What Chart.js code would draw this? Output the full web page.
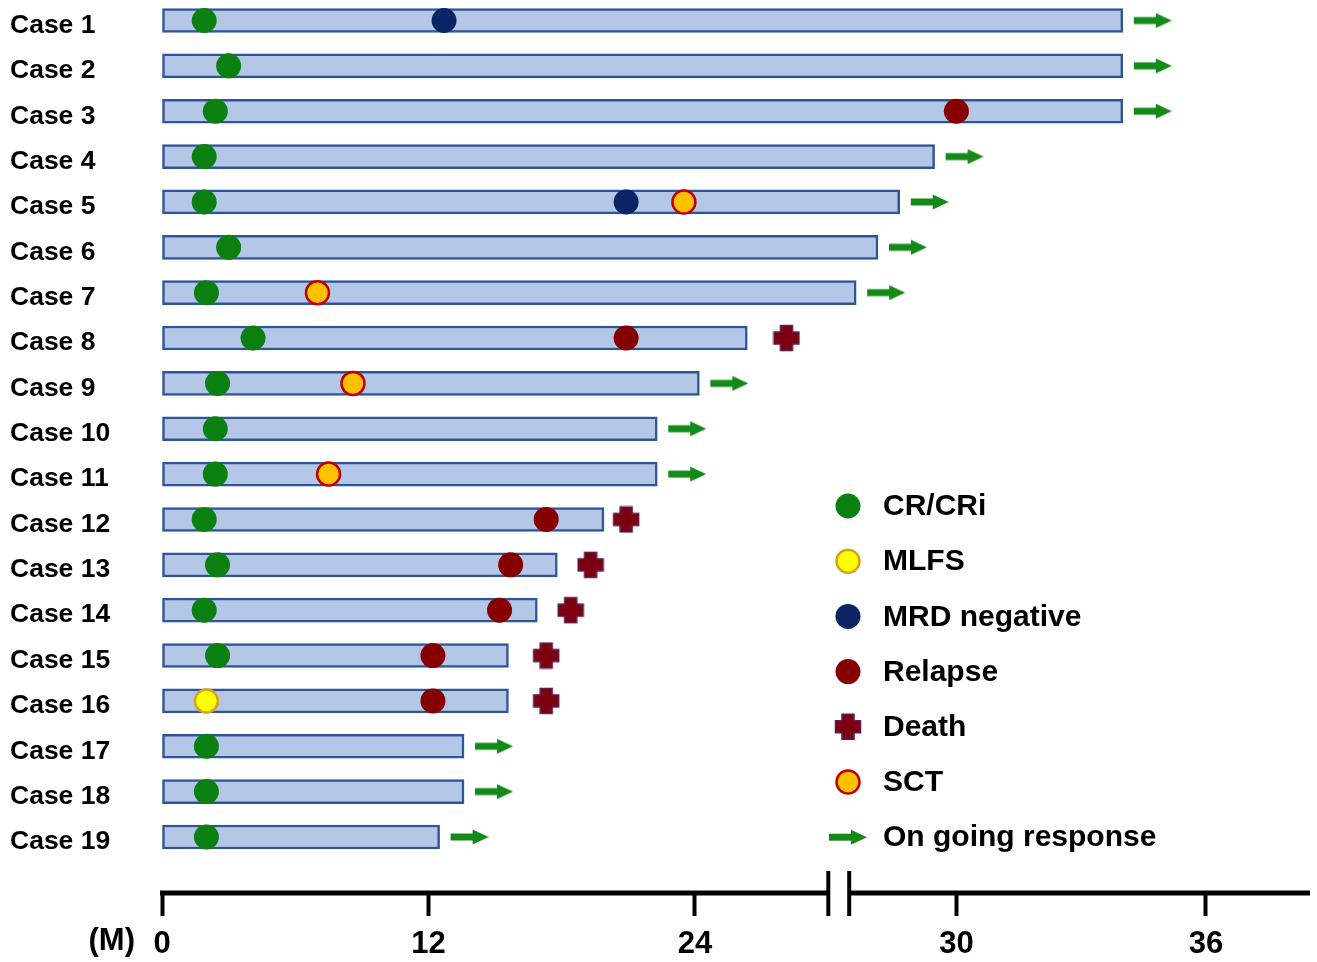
<!DOCTYPE html>
<html>
<head>
<meta charset="utf-8">
<script src="https://cdn.jsdelivr.net/npm/chart.js@4/dist/chart.umd.min.js"></script>
<style>
  html, body { margin: 0; padding: 0; background: #ffffff; }
  #wrap { width: 1317px; height: 962px; }
</style>
</head>
<body>
<div id="wrap"><canvas id="c" width="1317" height="962"></canvas></div>
<script>
// ---------------- DATA ----------------
const CASES = ['Case 1','Case 2','Case 3','Case 4','Case 5','Case 6','Case 7','Case 8','Case 9','Case 10',
               'Case 11','Case 12','Case 13','Case 14','Case 15','Case 16','Case 17','Case 18','Case 19'];
// follow-up duration (months)
const FOLLOW_UP = [34.0, 34.0, 34.0, 29.5, 28.7, 28.2, 27.7, 25.2, 24.1, 22.3,
                   22.3, 19.9, 17.8, 16.9, 15.6, 15.6, 13.6, 13.6, 12.5];
// ongoing response (1 = yes)
const ONGOING = [1,1,1,1,1,1,1,0,1,1,1,0,0,0,0,0,1,1,1];

const CR_CASE   = [1,2,3,4,5,6,7,8,9,10,11,12,13,14,15,17,18,19];
const CR_MONTH  = [1.9,3.0,2.4,1.9,1.9,3.0,2.0,4.1,2.5,2.4,2.4,1.9,2.5,1.9,2.5,2.0,2.0,2.0];
const MLFS_CASE = [16];
const MLFS_MONTH = [2.0];
const MRD_CASE  = [1, 5];
const MRD_MONTH = [12.7, 20.9];
const RELAPSE_CASE  = [3, 8, 12, 13, 14, 15, 16];
const RELAPSE_MONTH = [30.0, 20.9, 17.3, 15.7, 15.2, 12.2, 12.2];
const DEATH_CASE  = [8, 12, 13, 14, 15, 16];
const DEATH_MONTH = [26.1, 20.9, 19.3, 18.4, 17.3, 17.3];
const SCT_CASE  = [5, 7, 9, 11];
const SCT_MONTH = [23.5, 7.0, 8.6, 7.5];

const X_TICKS = [0, 12, 24, 30, 36];
const X_MAX_MONTH = 38.5;
const AXIS_BREAK = [27.06, 27.54];   // months where the axis line is broken
// piecewise axis scale (months -> axis units)
const AXIS_SCALE_MONTHS = [0, 24, 30, 36];
const AXIS_SCALE_UNITS  = [0, 24, 35.77, 47.01];

// ---------------- helpers ----------------
function toAxis(m) {
  const M = AXIS_SCALE_MONTHS, U = AXIS_SCALE_UNITS;
  let i = 0;
  while (i < M.length - 2 && m > M[i + 1]) i++;
  return U[i] + (m - M[i]) * (U[i + 1] - U[i]) / (M[i + 1] - M[i]);
}
function fromAxis(u) {
  const M = AXIS_SCALE_MONTHS, U = AXIS_SCALE_UNITS;
  let i = 0;
  while (i < U.length - 2 && u > U[i + 1] + 1e-9) i++;
  return M[i] + (u - U[i]) * (M[i + 1] - M[i]) / (U[i + 1] - U[i]);
}

const FONT = "'Liberation Sans', Arial, Helvetica, sans-serif";
const GREEN = '#0a8010';
const ARROW_GREEN = '#138a18';

function drawArrow(ctx, x0, y, len) {
  const shaftH = 7, headH = 15, headL = 16;
  ctx.fillStyle = ARROW_GREEN;
  ctx.fillRect(x0, y - shaftH / 2, len - headL + 1, shaftH);
  ctx.beginPath();
  ctx.moveTo(x0 + len - headL, y - headH / 2);
  ctx.lineTo(x0 + len, y);
  ctx.lineTo(x0 + len - headL, y + headH / 2);
  ctx.closePath();
  ctx.fill();
}
function drawCross(ctx, cx, cy) {
  const s = 12.5, a = 6;
  ctx.beginPath();
  ctx.moveTo(cx - a, cy - s); ctx.lineTo(cx + a, cy - s); ctx.lineTo(cx + a, cy - a);
  ctx.lineTo(cx + s, cy - a); ctx.lineTo(cx + s, cy + a); ctx.lineTo(cx + a, cy + a);
  ctx.lineTo(cx + a, cy + s); ctx.lineTo(cx - a, cy + s); ctx.lineTo(cx - a, cy + a);
  ctx.lineTo(cx - s, cy + a); ctx.lineTo(cx - s, cy - a); ctx.lineTo(cx - a, cy - a);
  ctx.closePath();
  ctx.fillStyle = '#7d0010';
  ctx.fill();
  ctx.lineWidth = 1.5;
  ctx.strokeStyle = '#5e1d4e';
  ctx.stroke();
}

// arrow image: centered on the bar end, the arrow lies in its right half
const ARROW_GAP = 11, ARROW_LEN = 38;
const arrowImg = document.createElement('canvas');
arrowImg.width = 2 * (ARROW_GAP + ARROW_LEN);
arrowImg.height = 18;
drawArrow(arrowImg.getContext('2d'), ARROW_GAP + ARROW_LEN + ARROW_GAP, 9, ARROW_LEN);

const crossImg = document.createElement('canvas');
crossImg.width = 28; crossImg.height = 28;
drawCross(crossImg.getContext('2d'), 14, 14);

function pts(cases, months) {
  return cases.map((c, i) => ({ x: toAxis(months[i]), y: c }));
}

const ongoingPts = [];
ONGOING.forEach((f, i) => { if (f) ongoingPts.push({ x: toAxis(FOLLOW_UP[i]), y: i + 1 }); });

const datasets = [
  {
    type: 'bar', label: 'Follow-up', indexAxis: 'y', order: 10,
    data: FOLLOW_UP.map((v, i) => ({ x: [0, toAxis(v)], y: i + 1 })),
    backgroundColor: '#b4c7e7', borderColor: '#2f5597', borderWidth: 2.5,
    borderSkipped: false, barThickness: 24
  },
  { type: 'scatter', label: 'CR/CRi', order: 1, data: pts(CR_CASE, CR_MONTH),
    pointStyle: 'circle', pointRadius: 12.5, backgroundColor: GREEN, borderColor: GREEN, borderWidth: 0 },
  { type: 'scatter', label: 'MLFS', order: 1, data: pts(MLFS_CASE, MLFS_MONTH),
    pointStyle: 'circle', pointRadius: 11.5, backgroundColor: '#ffff00', borderColor: '#d7a31a', borderWidth: 2.5 },
  { type: 'scatter', label: 'MRD negative', order: 1, data: pts(MRD_CASE, MRD_MONTH),
    pointStyle: 'circle', pointRadius: 12.5, backgroundColor: '#0b2463', borderColor: '#0b2463', borderWidth: 0 },
  { type: 'scatter', label: 'Relapse', order: 1, data: pts(RELAPSE_CASE, RELAPSE_MONTH),
    pointStyle: 'circle', pointRadius: 12.5, backgroundColor: '#860000', borderColor: '#860000', borderWidth: 0 },
  { type: 'scatter', label: 'Death', order: 1, data: pts(DEATH_CASE, DEATH_MONTH),
    pointStyle: crossImg, backgroundColor: '#7d0010', borderColor: '#5e1d4e' },
  { type: 'scatter', label: 'SCT', order: 1, data: pts(SCT_CASE, SCT_MONTH),
    pointStyle: 'circle', pointRadius: 11.5, backgroundColor: '#ffc000', borderColor: '#c00000', borderWidth: 2.5 },
  { type: 'scatter', label: 'On going response', order: 1, data: ongoingPts,
    pointStyle: arrowImg, backgroundColor: ARROW_GREEN, borderColor: ARROW_GREEN }
];

const brokenAxisPlugin = {
  id: 'brokenAxis',
  afterDraw(chart) {
    const ctx = chart.ctx, xs = chart.scales.x, area = chart.chartArea;
    const y = area.bottom;
    const x0 = xs.getPixelForValue(0) - 2;
    const b1 = xs.getPixelForValue(toAxis(AXIS_BREAK[0]));
    const b2 = xs.getPixelForValue(toAxis(AXIS_BREAK[1]));
    const xr = area.right;
    ctx.save();
    ctx.strokeStyle = '#000'; ctx.lineCap = 'butt';
    ctx.lineWidth = 5;
    ctx.beginPath(); ctx.moveTo(x0, y); ctx.lineTo(b1, y); ctx.moveTo(b2, y); ctx.lineTo(xr, y); ctx.stroke();
    ctx.lineWidth = 4;
    ctx.beginPath();
    ctx.moveTo(b1, y - 22); ctx.lineTo(b1, y + 23);
    ctx.moveTo(b2, y - 22); ctx.lineTo(b2, y + 23);
    ctx.stroke();
    // unit label
    ctx.fillStyle = '#000';
    ctx.font = 'bold 31px ' + FONT;
    ctx.textAlign = 'right'; ctx.textBaseline = 'top';
    const o = chart.options.scales.x;
    ctx.fillText('(M)', xs.getPixelForValue(0) - 27, y + o.grid.tickLength + o.ticks.padding);
    ctx.restore();
  }
};

const legendPlugin = {
  id: 'customLegend',
  afterDraw(chart, args, opts) {
    const ctx = chart.ctx;
    ctx.save();
    ctx.font = 'bold 30px ' + FONT;
    ctx.textAlign = 'left'; ctx.textBaseline = 'middle';
    let row = 0;
    chart.data.datasets.forEach(ds => {
      if (ds.type !== 'scatter') return;
      const y = opts.top + row * opts.step;
      const cx = opts.symbolX;
      if (ds.pointStyle === 'circle') {
        ctx.beginPath();
        ctx.arc(cx, y, ds.pointRadius, 0, Math.PI * 2);
        ctx.fillStyle = ds.backgroundColor; ctx.fill();
        if (ds.borderWidth) { ctx.lineWidth = ds.borderWidth; ctx.strokeStyle = ds.borderColor; ctx.stroke(); }
      } else if (ds.pointStyle === crossImg) {
        drawCross(ctx, cx, y);
      } else {
        drawArrow(ctx, cx - ARROW_LEN / 2, y, ARROW_LEN);
      }
      ctx.fillStyle = '#000';
      ctx.fillText(ds.label, opts.textX, y + 1);
      row++;
    });
    ctx.restore();
  }
};

function noPad(s) { s.paddingTop = 0; s.paddingBottom = 0; s.paddingLeft = 0; s.paddingRight = 0; }

new Chart(document.getElementById('c'), {
  type: 'bar',
  data: { datasets },
  plugins: [brokenAxisPlugin, legendPlugin],
  options: {
    responsive: false,
    animation: false,
    devicePixelRatio: 1,
    layout: { autoPadding: false, padding: { left: 10, right: 7, top: 0, bottom: 0 } },
    plugins: {
      legend: { display: false },
      tooltip: { enabled: false },
      customLegend: { top: 506, step: 55.2, symbolX: 848, textX: 883 }
    },
    datasets: { scatter: { clip: false }, bar: { clip: false } },
    scales: {
      x: {
        type: 'linear', position: 'bottom', offset: false,
        min: 0, max: toAxis(X_MAX_MONTH),
        afterBuildTicks: s => { s.ticks = X_TICKS.map(m => ({ value: toAxis(m) })); },
        afterFit: s => { s.height = 69; noPad(s); },
        ticks: {
          color: '#000', padding: 10, maxRotation: 0, autoSkip: false,
          font: { family: FONT, size: 31, weight: 'bold' },
          callback: v => String(Math.round(fromAxis(v)))
        },
        grid: { display: true, offset: false, drawOnChartArea: false, drawTicks: true, tickLength: 23,
                tickWidth: 4, tickColor: '#000', color: '#000' },
        border: { display: false }
      },
      y: {
        type: 'linear', position: 'left', reverse: true, offset: false,
        min: 0.548, max: 20.235,
        afterBuildTicks: s => { s.ticks = CASES.map((c, i) => ({ value: i + 1 })); },
        afterFit: s => { s.width = 152; noPad(s); },
        ticks: {
          color: '#000', crossAlign: 'far', labelOffset: 5, autoSkip: false,
          font: { family: FONT, size: 26.5, weight: 'bold' },
          callback: v => CASES[v - 1]
        },
        grid: { display: false, offset: false },
        border: { display: false }
      }
    }
  }
});
</script>
</body>
</html>
